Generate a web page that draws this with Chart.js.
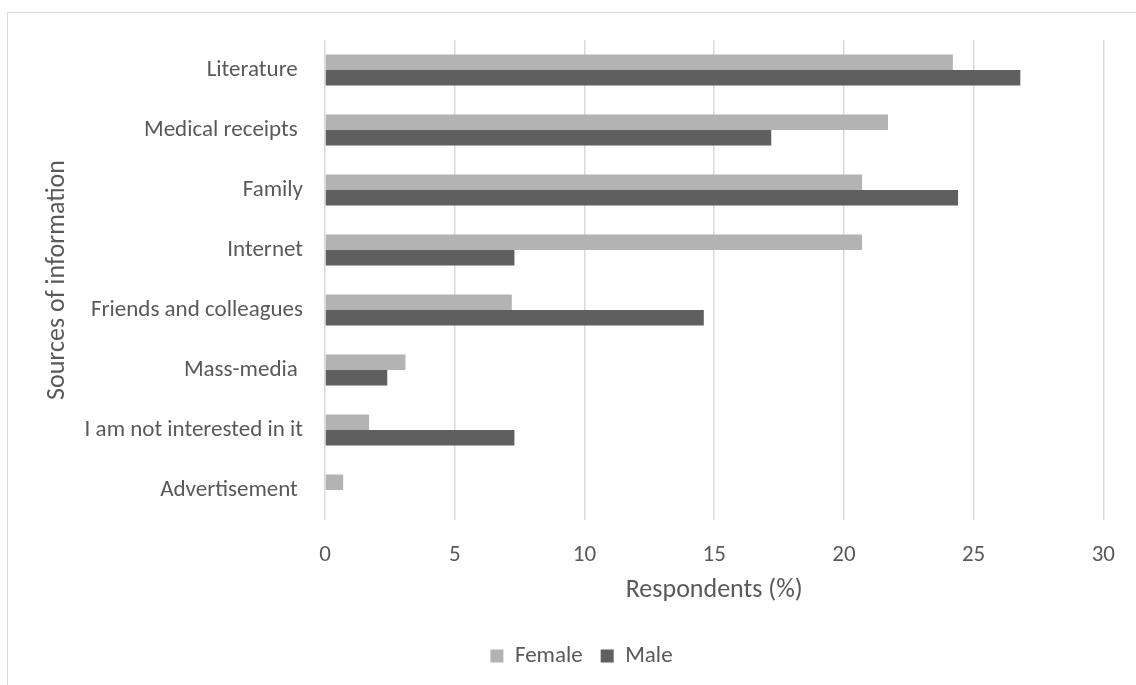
<!DOCTYPE html>
<html>
<head>
<meta charset="utf-8">
<script src="https://cdn.jsdelivr.net/npm/chart.js@4/dist/chart.umd.min.js"></script>
<style>
  html, body { margin: 0; padding: 0; background: #ffffff; }
  #wrap { position: relative; width: 1136px; height: 685px; overflow: hidden; }
  #frame { position: absolute; left: 7px; top: 12px; width: 1200px; height: 800px;
           border-left: 1.5px solid #d9d9d9; border-top: 1.5px solid #d9d9d9; }
  canvas { position: absolute; left: 0; top: 0; }
</style>
</head>
<body>
<div id="wrap">
  <div id="frame"></div>
  <canvas id="chart" width="1136" height="685"></canvas>
</div>
<script>
// Sources of information, share of respondents by sex (%)
const categories = [
  "Literature ",
  "Medical receipts ",
  "Family",
  "Internet",
  "Friends and colleagues",
  "Mass-media ",
  "I am not interested in it",
  "Advertisement "
];
const female = [24.2, 21.7, 20.7, 20.7, 7.2, 3.1, 1.7, 0.7];
const male   = [26.8, 17.2, 24.4, 7.3, 14.6, 2.4, 7.3, 0];
const xTicks = [0, 5, 10, 15, 20, 25, 30];

const FONT = "Carlito, Lato, 'Liberation Sans', sans-serif";
const TEXT = "#595959";

new Chart(document.getElementById("chart"), {
  type: "bar",
  data: {
    labels: categories,
    datasets: [
      { label: "Female", data: female, backgroundColor: "#b3b3b3" },
      { label: "Male", data: male, backgroundColor: "#5f5f5f" }
    ]
  },
  options: {
    indexAxis: "y",
    responsive: false,
    animation: false,
    events: [],
    datasets: { bar: { categoryPercentage: 0.52, barPercentage: 1.0 } },
    layout: { padding: { left: 58, right: 31, top: 40, bottom: 7.5 } },
    scales: {
      x: {
        min: 0, max: 30,
        afterBuildTicks: s => { s.ticks = xTicks.map(v => ({ value: v })); },
        afterFit: s => { s.height = 106.5; },
        grid: { color: "#d9d9d9", lineWidth: 1.5, drawTicks: false },
        border: { display: false },
        ticks: { color: TEXT, font: { family: FONT, size: 23 }, padding: 21 },
        title: { display: true, text: "Respondents (%)", color: TEXT,
                 font: { family: FONT, size: 26 }, padding: { top: 0, bottom: 20 } }
      },
      y: {
        afterFit: s => { s.width = 267; },
        grid: { display: false, drawTicks: false },
        border: { display: false },
        ticks: { color: TEXT, font: { family: FONT, size: 23 }, padding: 22 },
        title: { display: true, text: "Sources of information", color: TEXT,
                 font: { family: FONT, size: 26 }, padding: { top: -16.6, bottom: 0 } }
      }
    },
    plugins: {
      tooltip: { enabled: false },
      legend: {
        position: "bottom",
        labels: { color: TEXT, font: { family: FONT, size: 23 },
                  boxWidth: 13, boxHeight: 13, padding: 18 }
      }
    }
  }
});
</script>
</body>
</html>
